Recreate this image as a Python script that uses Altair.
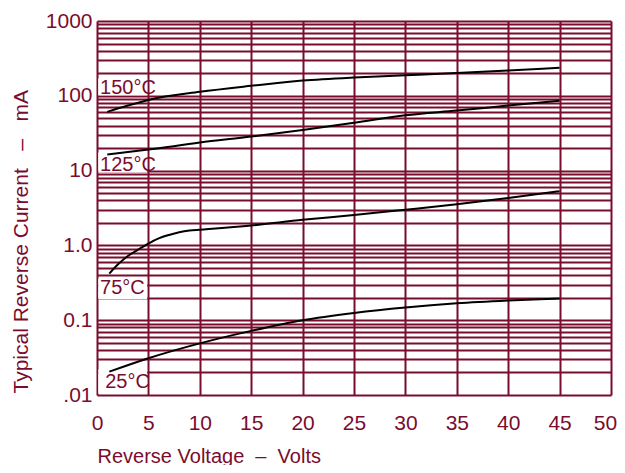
import altair as alt
import pandas as pd

MAROON = "#7a0c2e"
FONT = "Liberation Sans"

# Curves (reverse voltage in volts, current in mA)
v150 = [1, 3, 5, 10, 15, 20, 25, 30, 35, 40, 45]
i150 = [61, 74, 88, 113, 136, 160, 176, 188, 201, 218, 237]

v125 = [1, 5, 10, 15, 20, 25, 30, 35, 40, 45]
i125 = [16.4, 19.1, 23.7, 28.5, 35, 43.5, 55, 63.5, 74, 86]

v75 = [1.2, 2, 3, 4, 5, 6, 7, 8, 9, 10, 15, 20, 25, 30, 35, 40, 45]
i75 = [0.42, 0.55, 0.72, 0.88, 1.06, 1.24, 1.38, 1.5, 1.58, 1.62, 1.85, 2.2, 2.55, 3.0, 3.55, 4.3, 5.3]

v25 = [1.2, 5, 10, 15, 20, 25, 30, 35, 40, 45]
i25 = [0.0205, 0.031, 0.049, 0.072, 0.1, 0.125, 0.148, 0.168, 0.183, 0.195]

# Curve labels
label_text = ["150°C", "125°C", "75°C", "25°C"]
label_x = [0.3, 0.3, 0.3, 0.8]
label_y = [128, 12, 0.266, 0.0149]
box_top = [170, 17.4, 0.36, 0.022]
box_bottom = [102, 9.4, 0.19, 0.0105]
box_x0 = [0.12, 0.12, 0.12, 0.12]
box_x1 = [4.88, 4.88, 4.88, 4.88]

# Axes
x_ticks = [0, 5, 10, 15, 20, 25, 30, 35, 40, 45, 50]
decades = [0.01, 0.1, 1, 10, 100, 1000]
decade_labels = [".01", "0.1", "1.0", "10", "100", "1000"]
minor_mult = [1, 2, 3, 4, 5, 6, 7, 8, 9]
y_grid = sorted(set([round(d * m, 6) for d in decades[:-1] for m in minor_mult] + [1000]))

rows = []
for name, vs, cs in [("150", v150, i150), ("125", v125, i125), ("75", v75, i75), ("25", v25, i25)]:
    for v, c in zip(vs, cs):
        rows.append({"series": name, "v": v, "i": c})
curves = pd.DataFrame(rows)

labels = pd.DataFrame({"text": label_text, "x": label_x, "y": label_y,
                       "top": box_top, "bottom": box_bottom, "x0": box_x0, "x1": box_x1})

label_expr = " : ".join(
    [f"datum.value == {d} ? '{l}'" for d, l in zip(decades, decade_labels)]
) + " : ''"

xscale = alt.Scale(domain=[0, 50], nice=False, zero=False)
yscale = alt.Scale(type="log", domain=[0.01, 1000], nice=False)

xaxis = alt.Axis(
    values=x_ticks, grid=True, gridColor=MAROON, gridWidth=2, gridOpacity=1,
    domain=False, ticks=False, tickSize=0, labelPadding=17, labelFlush=False,
    labelOffset={"condition": {"test": "datum.value == 50", "value": -6}, "value": 0},
    labelFont=FONT, labelFontSize=21, labelColor=MAROON,
    title="Reverse Voltage\u00a0 –\u00a0 Volts", titleFont=FONT, titleFontSize=20,
    titleFontWeight="normal", titleColor=MAROON,
    titleAnchor="start", titleAlign="left", titleBaseline="middle",
    titleX=0, titleY=61,
)
yaxis = alt.Axis(
    values=y_grid, grid=True, gridColor=MAROON, gridWidth=2, gridOpacity=1,
    domain=False, ticks=False, tickSize=0, labelPadding=5, labelExpr=label_expr,
    labelOverlap=False, labelBaseline="middle", labelFlush=False,
    labelFont=FONT, labelFontSize=21, labelColor=MAROON,
    title="Typical Reverse Current\u00a0\u00a0 –\u00a0\u00a0 mA", titleFont=FONT, titleFontSize=21,
    titleFontWeight="normal", titleColor=MAROON,
    titleAngle=270, titleAlign="left", titleBaseline="middle",
    titleX=-76, titleY=372,
)

base_lines = alt.Chart(curves).mark_line(color="black", strokeWidth=2, interpolate="monotone").encode(
    x=alt.X("v:Q", scale=xscale, axis=xaxis),
    y=alt.Y("i:Q", scale=yscale, axis=yaxis),
    detail="series:N",
)

boxes = alt.Chart(labels).mark_rect(color="white", opacity=1).encode(
    x=alt.X("x0:Q", scale=xscale),
    x2="x1:Q",
    y=alt.Y("top:Q", scale=yscale),
    y2="bottom:Q",
)

texts = alt.Chart(labels).mark_text(
    align="left", baseline="middle", font=FONT, fontSize=20, color=MAROON
).encode(
    x=alt.X("x:Q", scale=xscale),
    y=alt.Y("y:Q", scale=yscale),
    text="text:N",
)

chart = alt.layer(boxes, base_lines, texts).properties(
    width=514, height=374,
    autosize=alt.AutoSizeParams(type="none"),
    padding={"left": 89, "top": 13, "right": 6, "bottom": 70},
).configure_view(stroke=None).configure(background="white")

chart.save("out.html", embed_options={"renderer": "svg", "actions": False})
